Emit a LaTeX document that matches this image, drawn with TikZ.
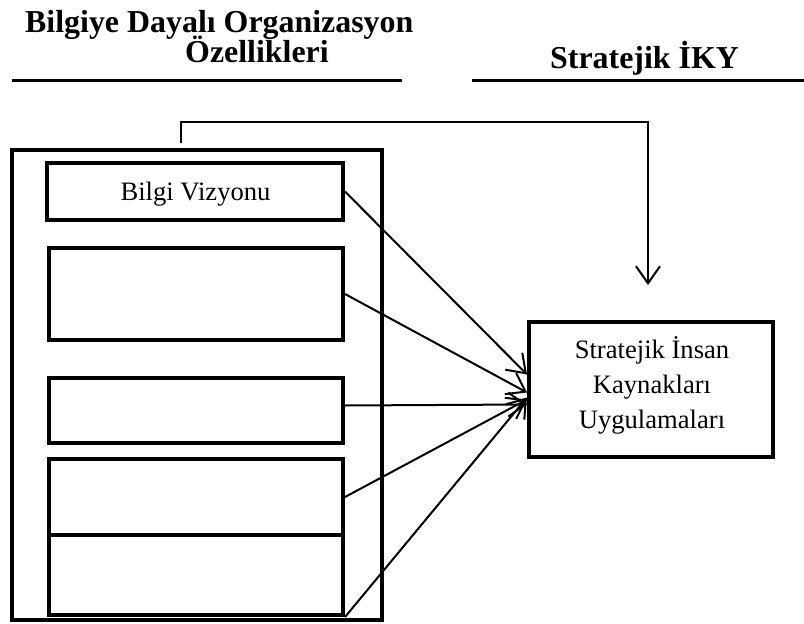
\documentclass[tikz,border=0pt]{standalone}
\usepackage{fontspec}
\setmainfont{Liberation Serif}
\usepackage{tikz}
\usetikzlibrary{arrows.meta, positioning, calc}
\tikzset{%
	outer/.style={draw, rectangle, line width=4pt, inner sep=0pt},
	feat/.style={draw, rectangle, line width=4pt, minimum width=294pt, inner sep=0pt},
	hrm/.style={draw, rectangle, line width=4pt, minimum width=244pt, minimum height=135pt},
	label/.style={inner sep=0pt, align=center, font=\fontsize{26.6}{35}\selectfont},
	heading/.style={inner sep=0pt, font=\fontsize{31.9}{28}\selectfont\bfseries},
	rule/.style={line width=3pt},
	link/.style={-{Straight Barb[length=17pt,width=24pt]}, line width=2pt}
}
\begin{document}
\begin{tikzpicture}[x=1pt, y=-1pt]
	\useasboundingbox (0,0) rectangle (804,624);
	\node[heading, anchor=base west] (head1) at (25,32) {Bilgiye Dayalı Organizasyon};
	\node[heading, anchor=base west] (head2) at (185,62) {Özellikleri};
	\node[heading, anchor=base west] (head3) at (550,68) {Stratejik İKY};
	\draw[rule] (12,80) -- (402,80);
	\draw[rule] (472,80) -- (804,80);

	\node[outer, minimum width=370pt, minimum height=470pt] (frame) at (197,385) {};
	\node[feat, minimum width=296pt, minimum height=57pt] (f1) at (195,191.5) {};
	\node[label, anchor=base] (f1txt) at (195.5,200) {Bilgi Vizyonu};
	\node[feat, minimum height=92pt] (f2) at (196,294) {};
	\node[feat, minimum height=65pt] (f3) at (196,410.5) {};
	\node[feat, minimum height=76pt] (f4) at (196,497) {};
	\node[feat, minimum height=80pt] (f5) at (196,575) {};
	\node[hrm] (ihu) at (651,389.5) {};
	\node[label, anchor=base] (ihutxt) at (652,428) {Stratejik İnsan\\Kaynakları\\Uygulamaları};

	\coordinate (up) at (181,143);
	\coordinate (drop) at (648,285);
	\draw[link] (up) -- ++(0,-21) -| (drop);

	\draw[link] (f1.east) to ($(ihu.west)+(0,-15)$);
	\draw[link] (f2.east) to ($(ihu.west)+(0,3)$);
	\draw[link] ($(f3.east)+(0,-5)$) to ($(ihu.west)+(0,15)$);
	\draw[link] (f4.east) to ($(ihu.west)+(0,10)$);
	\draw[link] (f5.south east) to ($(ihu.west)+(0,8)$);
\end{tikzpicture}
\end{document}
